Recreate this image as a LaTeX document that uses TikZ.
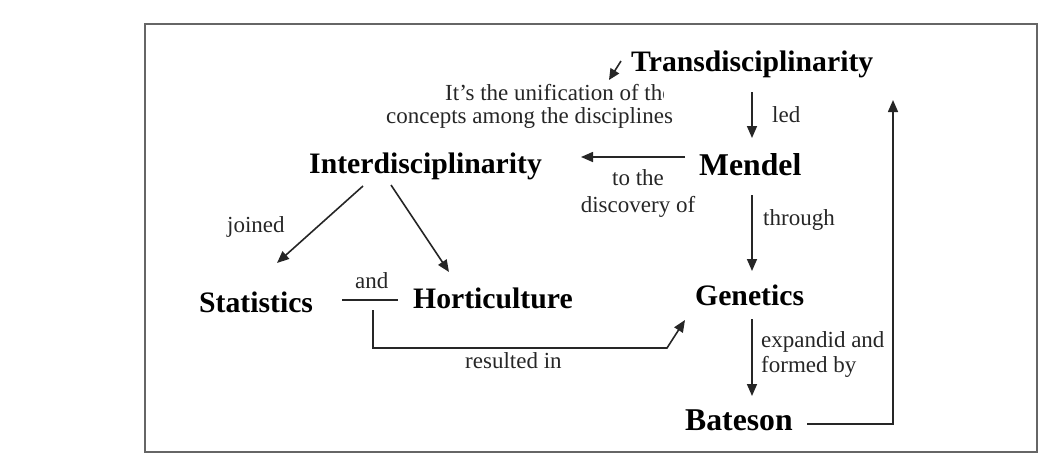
\documentclass[tikz,border=0pt]{standalone}
\usepackage{fontspec}
\setmainfont{Liberation Serif}
\usetikzlibrary{arrows.meta}
\begin{document}
\begin{tikzpicture}[x=1pt,y=-1pt,
  concept/.style={inner sep=0pt,anchor=base west,font=\bfseries\fontsize{29.7}{32}\selectfont,text=black},
  bigconcept/.style={concept,font=\bfseries\fontsize{31.7}{34}\selectfont},
  linklabel/.style={inner sep=0pt,anchor=base west,font=\fontsize{23}{25}\selectfont,text=black!85},
  link/.style={line width=1.6pt,draw=black!85},
  arrowlink/.style={link,-{Triangle[length=12pt,width=10pt]}},
  framebox/.style={line width=2pt,draw=black!60}]
\useasboundingbox (0,0) rectangle (1053,456);
\draw[framebox] (145,24) rectangle (1037,452);

% concepts
\node[concept]    (trans)  at (631,71)  {Transdisciplinarity};
\node[bigconcept] (mendel) at (699,175) {Mendel};
\node[concept]    (inter)  at (309,173) {Interdisciplinarity};
\node[concept]    (stat)   at (199,312) {Statistics};
\node[concept]    (hort)   at (413,308) {Horticulture};
\node[concept]    (gen)    at (695,305) {Genetics};
\node[bigconcept] (bat)    at (685,430) {Bateson};

% the definition note; its first line is cut off at the right
\begin{scope}
  \clip (300,70) rectangle (663,105);
  \node[linklabel] (def1) at (445,100) {It’s the unification of the};
\end{scope}
\node[linklabel] (def2) at (386,123) {concepts among the disciplines};

% link labels
\node[linklabel] (led)      at (772,122) {led};
\node[linklabel,anchor=base] (tothe) at (638,185) {to the};
\node[linklabel,anchor=base] (discov) at (638,212) {discovery of};
\node[linklabel] (through)  at (763,225) {through};
\node[linklabel] (expand)   at (761,347) {expandid and};
\node[linklabel] (formed)   at (761,372) {formed by};
\node[linklabel] (joined)   at (227,232) {joined};
\node[linklabel] (and)      at (355,288) {and};
\node[linklabel] (result)   at (465,368) {resulted in};

% connector end points
\coordinate (noteTail) at (621,61);
\coordinate (noteTip)  at (609,80);
\coordinate (ledTop)   at (752,92);
\coordinate (ledTip)   at (752,138);
\coordinate (discTail) at (685,157);
\coordinate (discTip)  at (581,157);
\coordinate (thrTop)   at (752,195);
\coordinate (thrTip)   at (752,271);
\coordinate (expTop)   at (752,319);
\coordinate (expTip)   at (752,396);
\coordinate (batEnd)   at (807,424);
\coordinate (loopCorner) at (893,424);
\coordinate (loopTip)  at (893,100);
\coordinate (joinTail) at (363,186);
\coordinate (joinTip)  at (277,263);
\coordinate (hortTail) at (391,185);
\coordinate (hortTip)  at (449,272);
\coordinate (andL)     at (342,300);
\coordinate (andR)     at (398,300);
\coordinate (resTop)   at (373,310);
\coordinate (resCorner) at (373,348);
\coordinate (resBend)  at (667,348);
\coordinate (resTip)   at (685,320);

% connectors
\draw[arrowlink,-{Triangle[length=11pt,width=10pt]}] (noteTail) -- (noteTip);
\draw[arrowlink] (ledTop) -- (ledTip);
\draw[arrowlink] (discTail) -- (discTip);
\draw[arrowlink] (thrTop) -- (thrTip);
\draw[arrowlink] (expTop) -- (expTip);
\draw[arrowlink] (batEnd) -- (loopCorner) -- (loopTip);
\draw[arrowlink] (joinTail) -- (joinTip);
\draw[arrowlink] (hortTail) -- (hortTip);
\draw[link] (andL) -- (andR);
\draw[arrowlink] (resTop) -- (resCorner) -- (resBend) -- (resTip);
\end{tikzpicture}
\end{document}
